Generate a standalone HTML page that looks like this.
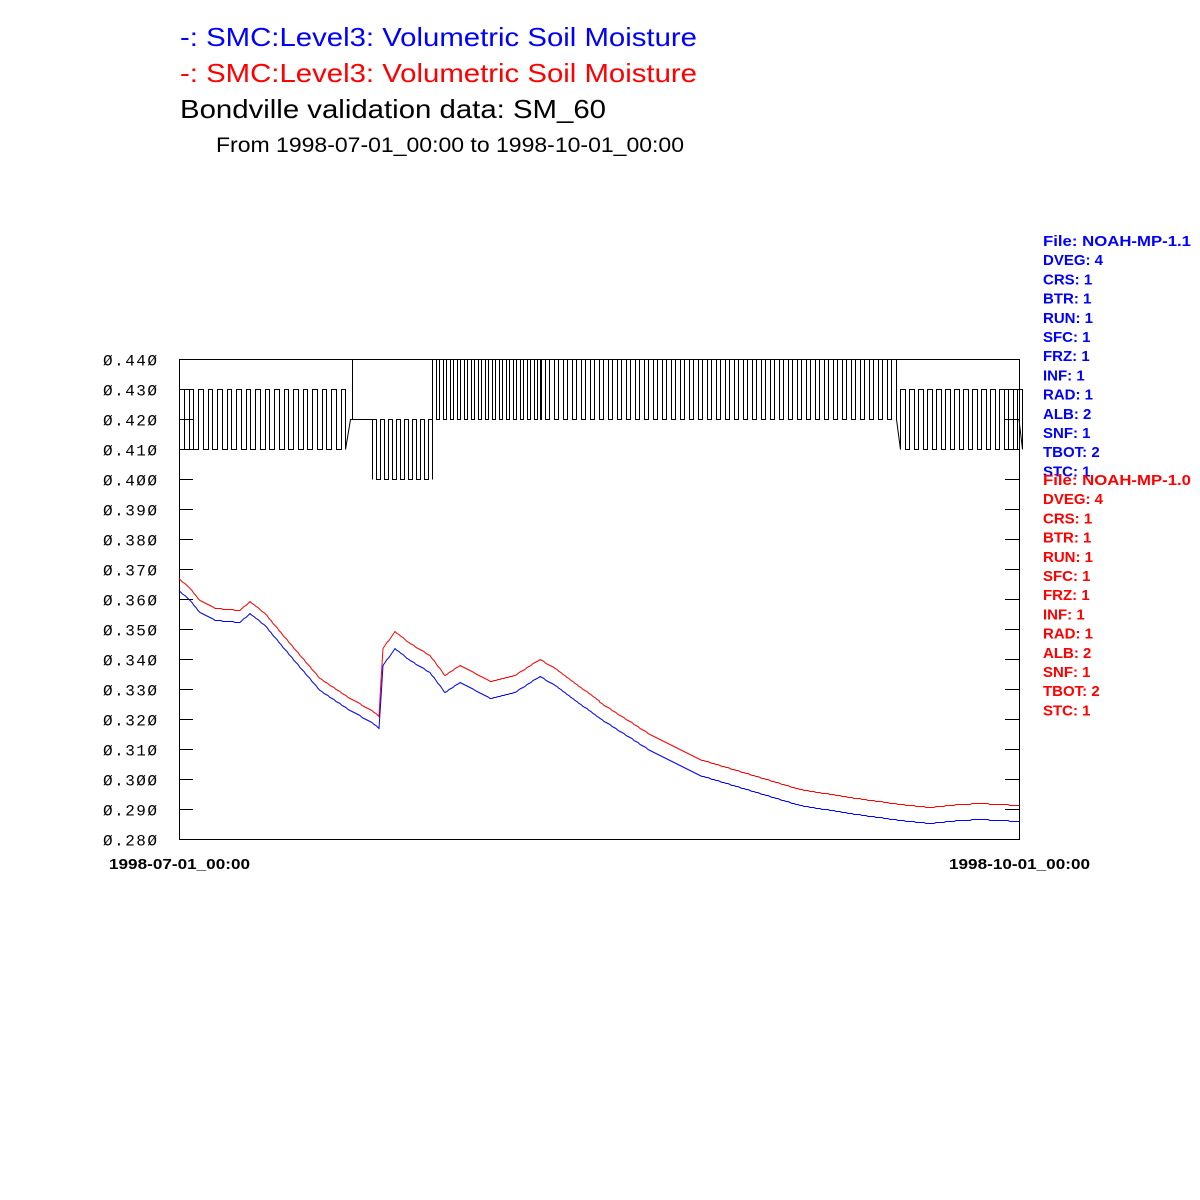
<!DOCTYPE html>
<html><head><style>
body{margin:0;background:#fff;width:1200px;height:1200px;overflow:hidden}
svg{display:block}
</style></head><body>
<svg width="1200" height="1200" xmlns="http://www.w3.org/2000/svg" font-family="Liberation Sans, sans-serif">
<text x="180" y="46" font-size="26" fill="#0000ff" textLength="517" lengthAdjust="spacingAndGlyphs">-:  SMC:Level3: Volumetric Soil Moisture</text>
<text x="180" y="82" font-size="26" fill="#ff0000" textLength="517" lengthAdjust="spacingAndGlyphs">-:  SMC:Level3: Volumetric Soil Moisture</text>
<text x="180" y="118" font-size="26" fill="#000" textLength="426" lengthAdjust="spacingAndGlyphs">Bondville validation data:  SM_60</text>
<text x="216" y="152" font-size="21" fill="#000" textLength="468" lengthAdjust="spacingAndGlyphs">From 1998-07-01_00:00 to 1998-10-01_00:00</text>
<rect x="179.5" y="359.5" width="840" height="480" fill="none" stroke="#000" stroke-width="1"/>
<g id="ticks" stroke="#000"></g>
<g id="ylab" font-family="Liberation Mono, monospace" font-size="16" fill="#000"></g>
<text x="109" y="869" font-size="15" font-weight="bold" textLength="141" lengthAdjust="spacingAndGlyphs">1998-07-01_00:00</text>
<text x="949" y="869" font-size="15" font-weight="bold" textLength="141" lengthAdjust="spacingAndGlyphs">1998-10-01_00:00</text>
<polyline id="blk" fill="none" stroke="#000" stroke-width="1"/>
<polyline id="red" fill="none" stroke="#ff0000" stroke-width="1"/>
<polyline id="blu" fill="none" stroke="#0000ff" stroke-width="1"/>
<g font-size="15" font-weight="bold" id="leg"></g>
</svg>
<script>
var ns="http://www.w3.org/2000/svg";
var t=document.getElementById('ticks'),yl=document.getElementById('ylab');
for(var i=0;i<=16;i++){var y=359.5+i*30;
 var l=document.createElementNS(ns,'line');l.setAttribute('x1',179);l.setAttribute('x2',193);l.setAttribute('y1',y);l.setAttribute('y2',y);t.appendChild(l);
 l=document.createElementNS(ns,'line');l.setAttribute('x1',1005);l.setAttribute('x2',1019);l.setAttribute('y1',y);l.setAttribute('y2',y);t.appendChild(l);
 var tx=document.createElementNS(ns,'text');tx.setAttribute('x',103);tx.setAttribute('y',y+6);tx.setAttribute('textLength',54);
 tx.textContent='\u00d8.'+(440-i*10).toString().replace(/0/g,'\u00d8');yl.appendChild(tx);}
var p=[];
function seg(x0,x1,lo,hi,per){for(var xx=x0;xx<x1;xx+=per){var a=Math.round(xx)+0.5,b=Math.round(xx+per/2)+0.5;p.push(a+','+lo,a+','+hi,b+','+hi,b+','+lo);}}
seg(179,350,449.5,389.5,9.5);
p.push('350.5,419.5','352.5,419.5','352.5,359.5','352.5,419.5','372.5,419.5');
seg(372,432,479.5,419.5,8);
p.push('432.5,419.5');
seg(432,540,419.5,359.5,7);
seg(540,900,419.5,359.5,9);
seg(900,1019,449.5,389.5,9);
p.push('1019,419.5');
document.getElementById('blk').setAttribute('points',p.join(' '));
var b=[[179,590],[190,600],[200,612],[215,620],[240,622],[250,613],[265,625],[290,655],[320,690],[350,710],[372,722],[379,728],[383,665],[395,648],[410,660],[430,672],[445,692],[460,682],[475,690],[490,698],[515,692],[540,676],[555,685],[600,718],[650,750],[700,775],[750,790],[800,805],[850,813],[900,820],[930,823],[960,820],[980,819],[1019,821]];
function interp(a,off){var out=[];for(var i=0;i<a.length-1;i++){var x0=a[i][0],y0=a[i][1],x1=a[i+1][0],y1=a[i+1][1];for(var xx=x0;xx<x1;xx+=2){var y=y0+(y1-y0)*(xx-x0)/(x1-x0);out.push(xx+','+(Math.round(y+off(xx))+0.5));}}out.push('1019,'+(a[a.length-1][1]+off(1019)+0.5));return out.join(' ');}
document.getElementById('blu').setAttribute('points',interp(b,function(){return 0}));
document.getElementById('red').setAttribute('points',interp(b,function(x){return x<380?-12:(x<600?-17:-16)}));
var lines=['File: NOAH-MP-1.1','DVEG: 4','CRS: 1','BTR: 1','RUN: 1','SFC: 1','FRZ: 1','INF: 1','RAD: 1','ALB: 2','SNF: 1','TBOT: 2','STC: 1'];
var lg=document.getElementById('leg');
function add(s,i,y0,c){var e=document.createElementNS(ns,'text');e.setAttribute('x',1043);e.setAttribute('y',y0+i*19.2);e.setAttribute('fill',c);if(i==0){e.setAttribute('textLength',148);e.setAttribute('lengthAdjust','spacingAndGlyphs');}e.textContent=s;lg.appendChild(e);}
lines.forEach(function(s,i){add(s,i,246,'#0000ff');});
lines.forEach(function(s,i){add(i==0?'File: NOAH-MP-1.0':s,i,485,'#ff0000');});
</script>
</body></html>
